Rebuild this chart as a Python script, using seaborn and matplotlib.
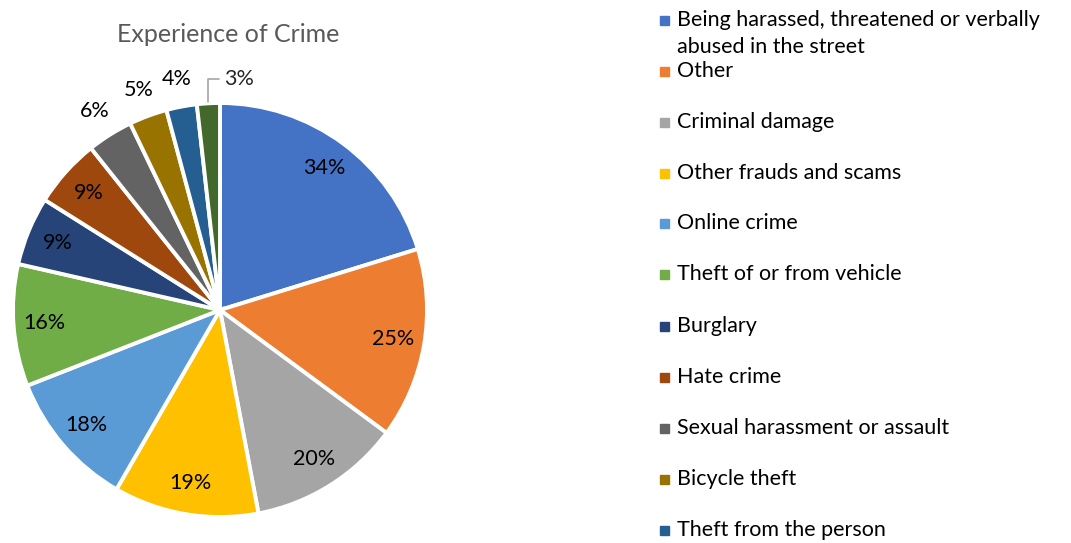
import matplotlib
matplotlib.use("Agg")
import matplotlib.pyplot as plt
import matplotlib.patches as mpatches
import numpy as np
import seaborn as sns

# Survey results: share of respondents reporting each type of crime
categories = [
    "Being harassed, threatened or verbally\nabused in the street",
    "Other",
    "Criminal damage",
    "Other frauds and scams",
    "Online crime",
    "Theft of or from vehicle",
    "Burglary",
    "Hate crime",
    "Sexual harassment or assault",
    "Bicycle theft",
    "Theft from the person",
    "Violent crime",
]
percentages = [34, 25, 20, 19, 18, 16, 9, 9, 6, 5, 4, 3]
colors = ["#4472C4", "#ED7D31", "#A5A5A5", "#FFC000", "#5B9BD5", "#70AD47",
          "#264478", "#9E480E", "#636363", "#997300", "#255E91", "#43682B"]

sns.set_style("white")
plt.rcParams["font.family"] = ["Lato", "DejaVu Sans"]

W, H = 1071, 543
fig = plt.figure(figsize=(W / 100, H / 100), dpi=100)

# Pie axes: centre (220, 310) px, radius 207 px
cx, cy, r = 220, 310, 207
ax = fig.add_axes([(cx - r) / W, (H - cy - r) / H, 2 * r / W, 2 * r / H])
wedges, _ = ax.pie(
    percentages, colors=colors, startangle=90, counterclock=False, radius=1,
    wedgeprops=dict(edgecolor="white", linewidth=2.8),
)
ax.set_xlim(-1, 1)
ax.set_ylim(-1, 1)
ax.set_aspect("equal")
ax.axis("off")

FS = 15.5
label_kw = dict(fontsize=FS, color="black", ha="center", va="center")
n = len(percentages)
for i, (w, v) in enumerate(zip(wedges, percentages)):
    ang = np.deg2rad((w.theta1 + w.theta2) / 2)
    txt = f"{v}%"
    if v >= 9:
        d = 0.85
        ax.text(d * np.cos(ang), d * np.sin(ang), txt, **label_kw)
    elif i < n - 1:
        d = 1.135
        ax.text(d * np.cos(ang), d * np.sin(ang), txt, clip_on=False, **label_kw)
    else:
        # smallest slice: label shifted right with a leader line
        x0, y0 = np.cos(ang), np.sin(ang)
        ax.annotate(txt, xy=(x0, y0 + 0.005), xytext=(0.02, 1.115),
                    ha="left", va="center", fontsize=FS, annotation_clip=False,
                    arrowprops=dict(arrowstyle="-", color="#A6A6A6", lw=1.2,
                                    connectionstyle="angle,angleA=0,angleB=90,rad=0",
                                    shrinkA=1, shrinkB=0))

fig.text(228 / W, 1 - 35 / H, "Experience of Crime", ha="center", va="center",
         fontsize=18, color="#595959")

# Legend drawn entry by entry; rows below the canvas edge are not drawn
row_y = [20, 71, 122, 173, 223, 274, 326, 377, 428, 479, 530, 581]
sq = 9
for name, col, y in zip(categories, colors, row_y):
    if y > H:
        continue
    fig.patches.append(mpatches.Rectangle((660 / W, 1 - (y + sq / 2) / H), sq / W, sq / H,
                                          transform=fig.transFigure, color=col, clip_on=False))
    for k, line in enumerate(name.split("\n")):
        fig.text(677 / W, 1 - (y + 27 * k) / H, line, ha="left", va="center",
                 fontsize=FS, color="black")

fig.savefig("out.png", dpi=100)
